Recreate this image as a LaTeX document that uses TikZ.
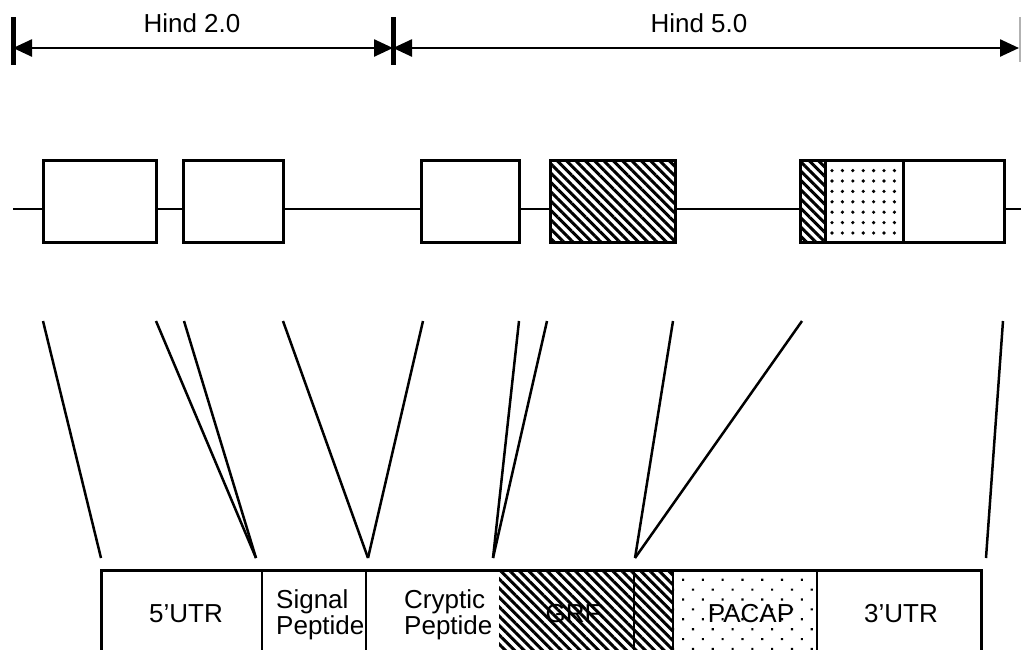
\documentclass[tikz,border=0pt]{standalone}
\usepackage{fontspec}
\setmainfont{Liberation Sans}
\usetikzlibrary{patterns.meta,arrows.meta}
\tikzset{
  exon/.style={draw, line width=3pt, fill=white},
  fanline/.style={line width=2.5pt},
  geneline/.style={line width=2.5pt},
  lbl/.style={font=\fontsize{26}{26}\selectfont, inner sep=0pt},
  twoline/.style={lbl, align=left, anchor=north west},
  dimline/.style={line width=2.5pt, {Triangle[length=19pt,width=17pt]}-{Triangle[length=19pt,width=17pt]}},
  dimbar/.style={line width=5pt},
  hatchfill/.style={pattern={Lines[angle=-45,distance=6.6pt,line width=3pt]}},
  dotfill/.style={pattern={Dots[distance=10.4pt,radius=1.8pt]}},
  sparsedots/.style={pattern={Dots[distance=14pt,angle=45,radius=1.5pt]}},
  mrna/.style={draw, line width=3pt}
}
\begin{document}
\begin{tikzpicture}[x=1pt,y=-1pt]
\useasboundingbox (0,0) rectangle (1021,649);
\clip (0,0) rectangle (1021,649);
\fill[white] (0,0) rectangle (1021,649);

% ---- dimension arrows ----
\coordinate (b1) at (13,48);
\coordinate (b2) at (393,48);
\coordinate (b3) at (1019,48);
\draw[dimline] (b1) -- (b2);
\draw[dimline] (b2) -- (b3);
\draw[dimbar] (13,17) -- (13,65);
\draw[dimbar] (393,17) -- (393,65);
\draw[line width=1.5pt, black!30] (1020,17) -- (1020,62);
\node[lbl] (h2) at (192,23.5) {Hind 2.0};
\node[lbl] (h5) at (699,23.5) {Hind 5.0};

% ---- gene ----
\coordinate (g0) at (13,209);
\coordinate (g1) at (1021,209);
\draw[geneline] (g0) -- (g1);
\draw[exon] (43,160) rectangle (156,242);
\draw[exon] (183,160) rectangle (283,242);
\draw[exon] (421,160) rectangle (519,242);
\draw[exon] (550,160) rectangle (675,242);
\fill[hatchfill] (550,160) rectangle (675,242);
\draw[line width=3pt] (550,160) rectangle (675,242);
\draw[exon] (800,160) rectangle (1004,242);
\fill[hatchfill] (800,160) rectangle (825,242);
\fill[dotfill] (825,160) rectangle (903,242);
\draw[line width=3pt] (800,160) rectangle (1004,242);
\draw[line width=3pt] (825,160) -- (825,242);
\draw[line width=3pt] (903,160) -- (903,242);

% ---- fan lines ----
\foreach \n/\x in {1/43,2/156,3/184,4/283,5/423,6/519,7/547,8/673,9/802,10/1003}
  \coordinate (t\n) at (\x,321);
\foreach \n/\x in {1/101,2/256,3/368,4/493,5/635,6/986}
  \coordinate (m\n) at (\x,558);
\draw[fanline] (t1) -- (m1);
\draw[fanline] (t2) -- (m2);
\draw[fanline] (t3) -- (m2);
\draw[fanline] (t4) -- (m3);
\draw[fanline] (t5) -- (m3);
\draw[fanline] (t6) -- (m4);
\draw[fanline] (t7) -- (m4);
\draw[fanline] (t8) -- (m5);
\draw[fanline] (t9) -- (m5);
\draw[fanline] (t10) -- (m6);

% ---- mRNA ----
\fill[hatchfill] (499,570) rectangle (673,700);
\fill[sparsedots] (673,570) rectangle (817,700);
\draw[mrna] (101,700) -- (101,570) -- (981,570) -- (981,700);
\foreach \x in {262,366,634,673,817}
  \draw[line width=2.5pt] (\x,570) -- (\x,700);

\node[lbl] (u5) at (186,614) {5'UTR};
\node[twoline] (sp) at (276,589) {Signal\\Peptide};
\node[twoline] (cp) at (404,589) {Cryptic\\Peptide};
\node[lbl] (grf) at (573,614) {GRF};
\node[lbl] (pacap) at (751,614) {PACAP};
\node[lbl] (u3) at (901,614) {3'UTR};
\end{tikzpicture}
\end{document}
